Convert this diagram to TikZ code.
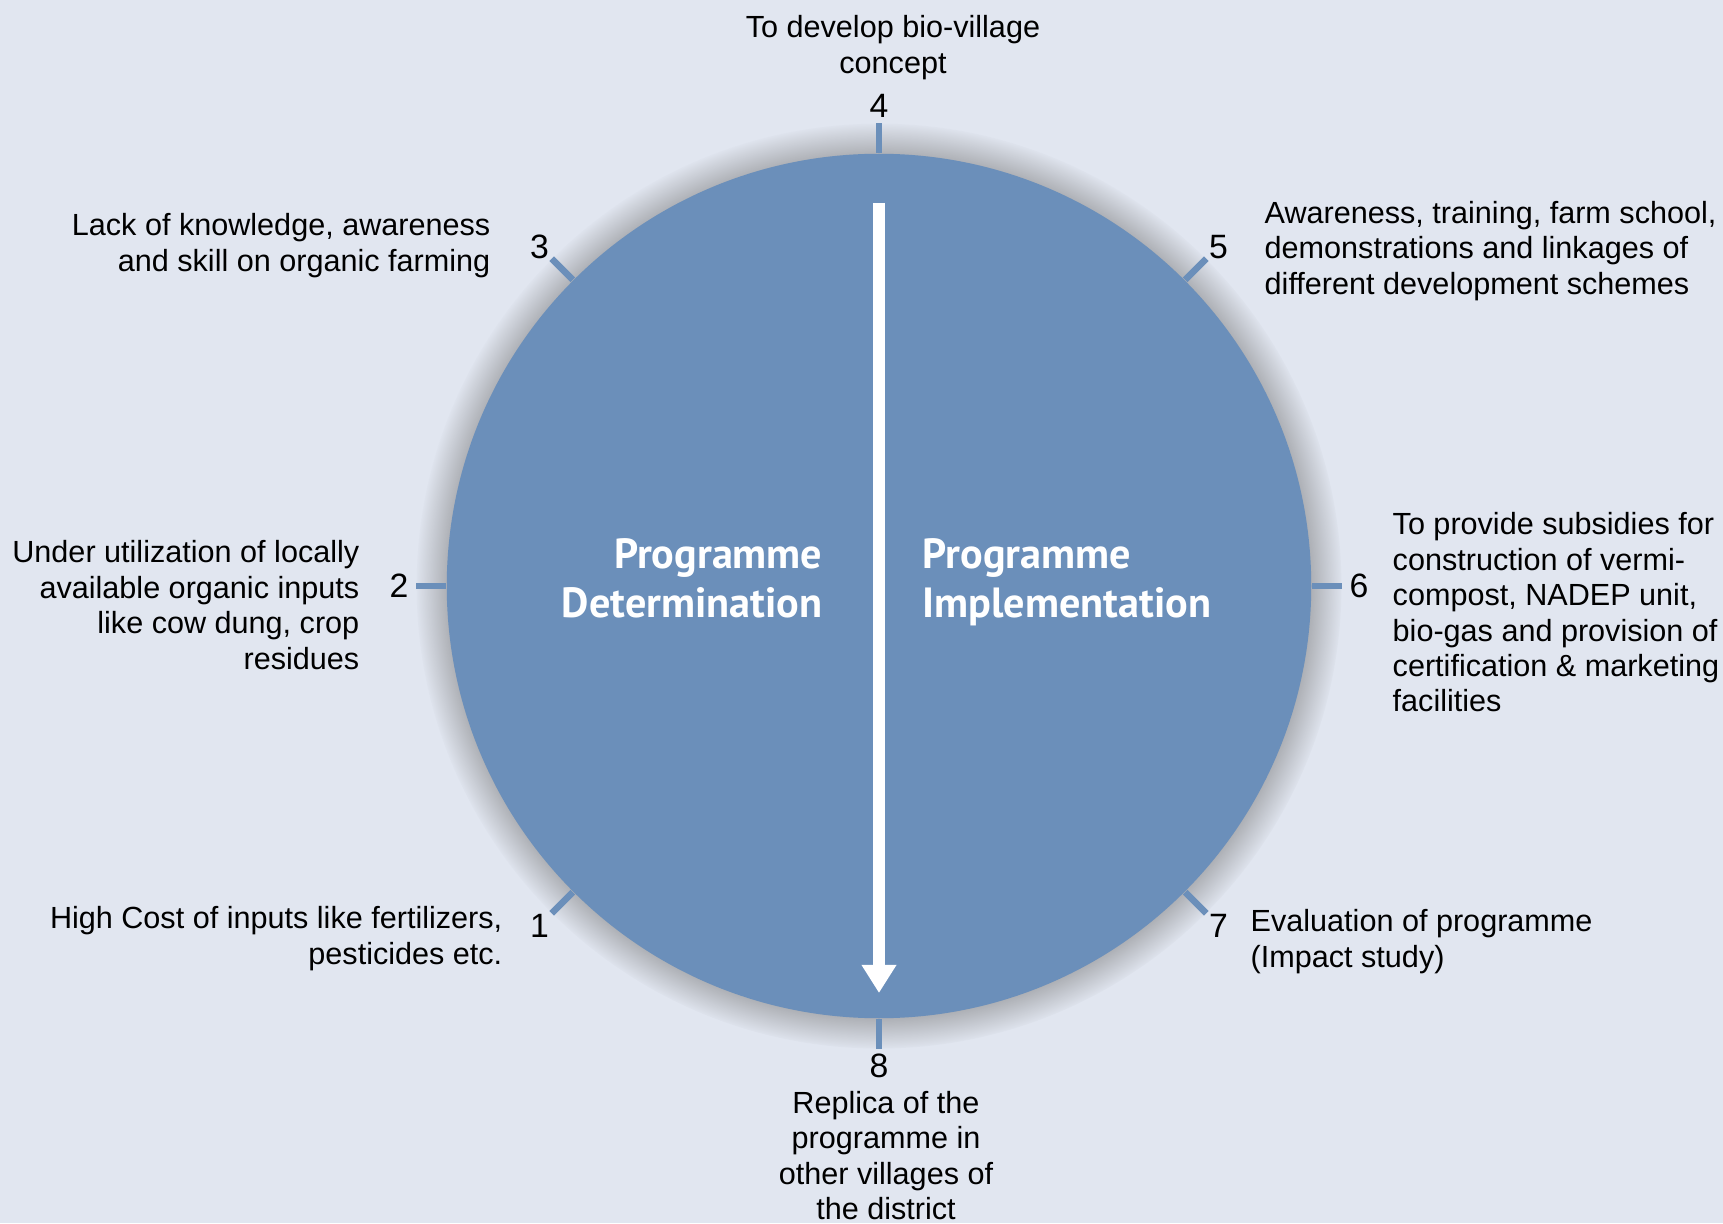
\documentclass[tikz,border=0pt]{standalone}
\usepackage{fontspec}
\setmainfont{Liberation Sans}
\newfontfamily\headfont{PT Sans}
\definecolor{circblue}{RGB}{107,143,186}
\definecolor{paleback}{RGB}{225,230,240}
\usetikzlibrary{shadows,arrows.meta}

\begin{document}
\begin{tikzpicture}[
                    x=0.01cm, y=0.01cm,
                    every node/.style={
                        inner sep=0pt,
                        font=\fontsize{8.7}{10.07}\selectfont
                    },
                    wheel/.style={
                        circle,
                        fill=circblue,
                        minimum size=8.64cm,
                        circular glow={fill=black!55, shadow scale=1.07}
                    },
                    spoke/.style={
                        draw=circblue,
                        line width=1.85pt
                    },
                    stepnum/.style={
                        font=\fontsize{9.6}{11}\selectfont
                    },
                    stage/.style={
                        font=\headfont\bfseries\fontsize{12}{14}\selectfont,
                        text=white
                    },
                    flow/.style={
                        draw=white,
                        line width=3.4pt,
                        -{Triangle[width=9.4pt,length=8pt]}
                    }
                ]
    \fill[paleback] (0,0) rectangle (1723,1223);
    \useasboundingbox (0,0) rectangle (1723,1223);

    \node[wheel] (wheel) at (879,637) {};
    \foreach \ang/\num in {225/1,180/2,135/3,90/4,45/5,0/6,315/7,270/8} {
        \draw[spoke] (wheel.\ang) -- ++(\ang:30);
        \path (wheel.center) ++(\ang:480) node[stepnum] (n\num) {\num};
    }

    \node[stage, align=right, anchor=east] (determ) at (823,645) {Programme\\Determination};
    \node[stage, align=left, anchor=west] (implem) at (922,641) {Programme\\Implementation};

    \coordinate (flowtop) at (879,1020);
    \coordinate (flowend) at (879,230);
    \draw[flow] (flowtop) -- (flowend);

    \node[align=center] (goal4) at (893,1175.5) {To develop bio-village\\concept};
    \node[align=right, anchor=east] (goal3) at (491,977.5) {Lack of knowledge, awareness\\and skill on organic farming};
    \node[align=left, anchor=west] (goal5) at (1264,972) {Awareness, training, farm school,\\demonstrations and linkages of\\different development schemes};
    \node[align=right, anchor=east] (goal2) at (360,618) {Under utilization of locally\\available organic inputs\\like cow dung, crop\\residues};
    \node[align=left, anchor=west] (goal6) at (1392,610.5) {To provide subsidies for\\construction of vermi-\\compost, NADEP unit,\\bio-gas and provision of\\certification \& marketing\\facilities};
    \node[align=right, anchor=east] (goal1) at (503,284.5) {High Cost of inputs like fertilizers,\\pesticides etc.};
    \node[align=left, anchor=west] (goal7) at (1250,281.5) {Evaluation of programme\\(Impact study)};
    \node[align=center] (goal8) at (886,67.5) {Replica of the\\programme in\\other villages of\\the district};
\end{tikzpicture}
\end{document}
